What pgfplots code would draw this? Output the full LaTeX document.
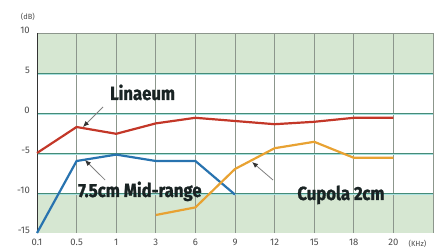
\documentclass[border=0pt]{standalone}
\usepackage{pgfplots}
\pgfplotsset{compat=1.18}
\usepackage{fontspec}
\setmainfont{Fira Sans}
\newfontfamily\labfont[FakeStretch=0.88, BoldFeatures={FakeBold=1.2}]{Fira Sans}
\usetikzlibrary{arrows.meta}
\definecolor{bandgreen}{RGB}{214,231,210}
\definecolor{gridteal}{RGB}{70,140,120}
\definecolor{gridcyan}{RGB}{170,225,225}
\definecolor{vgray}{RGB}{140,150,140}
\definecolor{cred}{RGB}{195,55,40}
\definecolor{cblue}{RGB}{40,115,175}
\definecolor{corange}{RGB}{232,162,50}
\definecolor{ticktxt}{RGB}{75,75,75}
\definecolor{labtxt}{RGB}{25,35,35}
\begin{document}
\begin{tikzpicture}[x=1pt,y=1pt]
\path[use as bounding box] (0,0) rectangle (435,248);
\begin{axis}[
  at={(37pt,15pt)}, anchor=south west,
  width=396pt, height=200pt, scale only axis,
  xmin=0, xmax=10, ymin=-15, ymax=10,
  axis lines=none,
  clip=false,
  /pgf/number format/assume math mode=true,
]
% bands
\fill[bandgreen] (axis cs:0,5) rectangle (axis cs:10,10);
\fill[bandgreen] (axis cs:0,-15) rectangle (axis cs:10,-10);
% vertical grid
\foreach \i in {1,...,9} {
  \edef\tmp{\noexpand\draw[vgray, line width=0.8pt] (axis cs:\i,-15) -- (axis cs:\i,10);}\tmp
}
\draw[vgray, line width=0.8pt] (axis cs:10,-15) -- (axis cs:10,10);
\draw[vgray, line width=0.8pt] (axis cs:0,10) -- (axis cs:10,10);
% horizontal grid
\foreach \v in {5,0,-5,-10} {
  \edef\tmp{\noexpand\draw[gridcyan, line width=1.6pt] ([yshift=-1pt]axis cs:0,\v) -- ([yshift=-1pt]axis cs:10,\v);
  \noexpand\draw[gridteal, line width=0.8pt] (axis cs:0,\v) -- (axis cs:10,\v);}\tmp
}
\draw[black!80, line width=1pt] (axis cs:0,-15) -- (axis cs:0,10);
% tick labels
\foreach \v/\t in {10/10,5/5,0/0,-5/-5,-10/-10,-15/-15} {
  \edef\tmp{\noexpand\node[anchor=east, inner sep=0pt, font=\noexpand\fontsize{9.5}{10}\noexpand\selectfont, text=ticktxt] at ([xshift=-7pt,yshift=2.5pt]axis cs:0,\v) {\t};}\tmp
}
\node[anchor=south east, inner sep=0pt, font=\fontsize{7.5}{8}\selectfont, text=ticktxt] at ([xshift=-2pt,yshift=12pt]axis cs:0,10) {(dB)};
\foreach \i/\t in {0/0.1,1/0.5,2/1,3/3,4/6,5/9,6/12,7/15,8/18,9/20} {
  \edef\tmp{\noexpand\node[anchor=north, inner sep=0pt, font=\noexpand\fontsize{9.5}{10}\noexpand\selectfont, text=ticktxt] at ([yshift=-6pt]axis cs:\i,-15) {\t};}\tmp
}
\node[anchor=north west, inner sep=0pt, font=\fontsize{7.5}{8}\selectfont, text=ticktxt] at ([xshift=15pt,yshift=-6.5pt]axis cs:9,-15) {(KHz)};
% data
\addplot[cred, line width=2.2pt] coordinates {(0,-5) (1,-1.75) (2,-2.6) (3,-1.3) (4,-0.6) (5,-1.0) (6,-1.4) (7,-1.1) (8,-0.6) (9,-0.6)};
\addplot[cblue, line width=2.2pt] coordinates {(0,-15) (1,-6) (2,-5.2) (3,-6) (4,-6) (5,-10.2)};
\addplot[corange, line width=2.2pt] coordinates {(3,-12.75) (4,-11.8) (5,-7) (6,-4.4) (7,-3.6) (8,-5.6) (9,-5.6)};
% labels
\node[anchor=base west, inner sep=0pt, font=\labfont\bfseries\fontsize{19}{20}\selectfont, text=labtxt] at (axis cs:1.84,1.625) {Linaeum};
\node[anchor=base west, inner sep=0pt, font=\labfont\bfseries\fontsize{19}{20}\selectfont, text=labtxt] at (axis cs:1.035,-10.5) {7.5cm Mid-range};
\node[anchor=base west, inner sep=0pt, font=\labfont\bfseries\fontsize{19}{20}\selectfont, text=labtxt] at (axis cs:6.57,-10.875) {Cupola 2cm};
\draw[gray, line width=0.8pt, -{Latex[length=6pt,width=5pt,black!80]}] (axis cs:1.667,0.75) -- (axis cs:1.16,-1.75);
\draw[gray, line width=0.8pt, -{Latex[length=6pt,width=5pt,black!80]}] (axis cs:1.72,-8.375) -- (axis cs:1.21,-5.875);
\draw[gray, line width=0.8pt, -{Latex[length=6pt,width=5pt,black!80]}] (axis cs:5.96,-8.375) -- (axis cs:5.43,-6.125);
\end{axis}
\end{tikzpicture}
\end{document}
